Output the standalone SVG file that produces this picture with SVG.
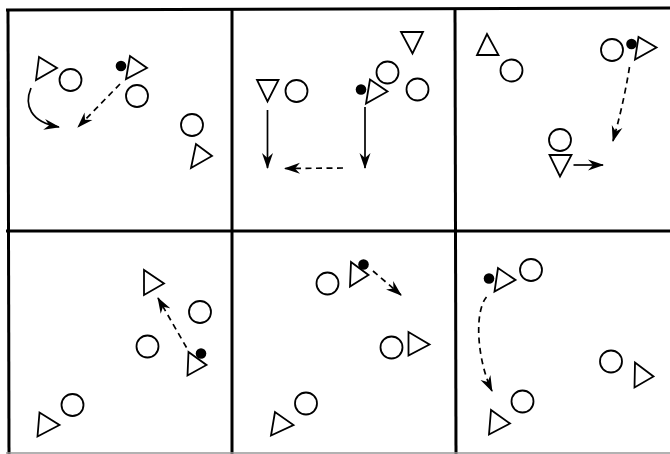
<svg xmlns="http://www.w3.org/2000/svg" width="670" height="454" viewBox="0 0 670 454">
<defs>
<style>
.frame{stroke:#000;stroke-width:3;fill:none}
.tri{fill:#fff;stroke:#000;stroke-width:1.8;stroke-linejoin:miter}
.cir{fill:#fff;stroke:#000;stroke-width:1.8}
.ball{fill:#000}
.run{fill:none;stroke:#000;stroke-width:1.7;marker-end:url(#ah)}
.pass{fill:none;stroke:#000;stroke-width:1.7;stroke-dasharray:6 4.5;marker-end:url(#ah)}
</style>
<marker id="ah" viewBox="0 0 16 12" refX="15" refY="6" markerWidth="16" markerHeight="12" markerUnits="userSpaceOnUse" orient="auto">
<path d="M0,0.5 L16,6 L0,11.5 L5,6 Z" fill="#000"/>
</marker>
</defs>
<rect width="670" height="454" fill="#fff"/>
<g id="frame">
<line class="frame" x1="6" y1="10" x2="670" y2="8"/>
<line class="frame" x1="6" y1="231" x2="670" y2="231"/>
<line class="frame" x1="8" y1="9" x2="9" y2="454"/>
<line class="frame" x1="232" y1="9" x2="232" y2="454"/>
<line class="frame" x1="455" y1="8" x2="456" y2="454"/>
<line x1="6" y1="453" x2="670" y2="453" stroke="#999" stroke-width="1.5"/>
</g>
<g id="panel1">
<g id="p1-t1"><polygon class="tri" points="39,57 36,80 57,68"/></g>
<g id="p1-c1"><circle class="cir" cx="70.5" cy="80" r="11"/></g>
<g id="p1-ball"><circle class="ball" cx="121" cy="66" r="5.3"/></g>
<g id="p1-t2"><polygon class="tri" points="130,56 126,79 147,68"/></g>
<g id="p1-c2"><circle class="cir" cx="137" cy="96" r="11"/></g>
<g id="p1-c3"><circle class="cir" cx="192" cy="125" r="11"/></g>
<g id="p1-t3"><polygon class="tri" points="196,144 191,168 212,156"/></g>
</g>
<g id="panel2">
<g id="p2-t1"><polygon class="tri" points="257,80 278.5,80 267.5,101.5"/></g>
<g id="p2-c1"><circle class="cir" cx="296.5" cy="91" r="11"/></g>
<g id="p2-ball"><circle class="ball" cx="361" cy="89.5" r="5.3"/></g>
<g id="p2-t2"><polygon class="tri" points="370,79.5 366,103.5 387.5,91.5"/></g>
<g id="p2-c2"><circle class="cir" cx="387.5" cy="72.5" r="11"/></g>
<g id="p2-t3"><polygon class="tri" points="401,32 423,32 412.5,53.5"/></g>
<g id="p2-c3"><circle class="cir" cx="417.5" cy="89.5" r="11"/></g>
</g>
<g id="panel3">
<g id="p3-t1"><polygon class="tri" points="477,55 498.5,55 487,34"/></g>
<g id="p3-c1"><circle class="cir" cx="511.5" cy="70.5" r="11"/></g>
<g id="p3-c2"><circle class="cir" cx="612" cy="50" r="11"/></g>
<g id="p3-ball"><circle class="ball" cx="631.5" cy="44" r="5.3"/></g>
<g id="p3-t2"><polygon class="tri" points="638.5,37 635,59.5 656.5,47.5"/></g>
<g id="p3-c3"><circle class="cir" cx="560" cy="140" r="11"/></g>
<g id="p3-t3"><polygon class="tri" points="549.5,155 571.5,155 560,176.5"/></g>
</g>
<g id="panel4">
<g id="p4-t1"><polygon class="tri" points="144,270 144,295 164,283.5"/></g>
<g id="p4-c1"><circle class="cir" cx="200" cy="312" r="11"/></g>
<g id="p4-c2"><circle class="cir" cx="147.5" cy="346.5" r="11"/></g>
<g id="p4-t2"><polygon class="tri" points="188.5,352 187.5,375.5 206.5,365"/></g>
<g id="p4-ball"><circle class="ball" cx="201" cy="353.5" r="5.3"/></g>
<g id="p4-c3"><circle class="cir" cx="72.5" cy="405" r="11"/></g>
<g id="p4-t3"><polygon class="tri" points="39.5,412.5 37.5,436.5 59.5,425"/></g>
</g>
<g id="panel5">
<g id="p5-c1"><circle class="cir" cx="327.5" cy="283.5" r="11"/></g>
<g id="p5-t1"><polygon class="tri" points="351,262 350,286.5 368.5,275"/></g>
<g id="p5-ball"><circle class="ball" cx="363.5" cy="264.5" r="5.3"/></g>
<g id="p5-c2"><circle class="cir" cx="391.5" cy="347.5" r="11"/></g>
<g id="p5-t2"><polygon class="tri" points="408.5,332 408.5,355.5 429.5,344.5"/></g>
<g id="p5-c3"><circle class="cir" cx="306" cy="403.5" r="11"/></g>
<g id="p5-t3"><polygon class="tri" points="275,412 271,435.5 293.5,425"/></g>
</g>
<g id="panel6">
<g id="p6-t1"><polygon class="tri" points="498,268 494.5,291.5 515.5,280"/></g>
<g id="p6-ball"><circle class="ball" cx="489" cy="278.5" r="5.3"/></g>
<g id="p6-c1"><circle class="cir" cx="531" cy="270" r="11"/></g>
<g id="p6-c2"><circle class="cir" cx="611" cy="361.5" r="11"/></g>
<g id="p6-t2"><polygon class="tri" points="635,362.5 634.5,387.5 653.5,376.5"/></g>
<g id="p6-c3"><circle class="cir" cx="522.5" cy="401.5" r="11"/></g>
<g id="p6-t3"><polygon class="tri" points="491,410 489,434.5 510,423.5"/></g>
</g>
<g id="connectors">
<path class="run" d="M31,88 C24,105 30,122 59,127"/>
<path class="pass" d="M120,84 L78,127"/>
<path class="run" d="M267.5,110 L267.5,168"/>
<path class="run" d="M365,107 L365,168"/>
<path class="pass" d="M343,168 L285,168.5"/>
<path class="pass" d="M629.5,67 C625,95 619,120 613,141"/>
<path class="run" d="M573.5,165 L603,165"/>
<path class="pass" d="M186.5,347.5 L158,298"/>
<path class="pass" d="M373,271 L401,295"/>
<path class="pass" d="M486.5,297 C474,312 477,360 492,391"/>
</g>
</svg>
